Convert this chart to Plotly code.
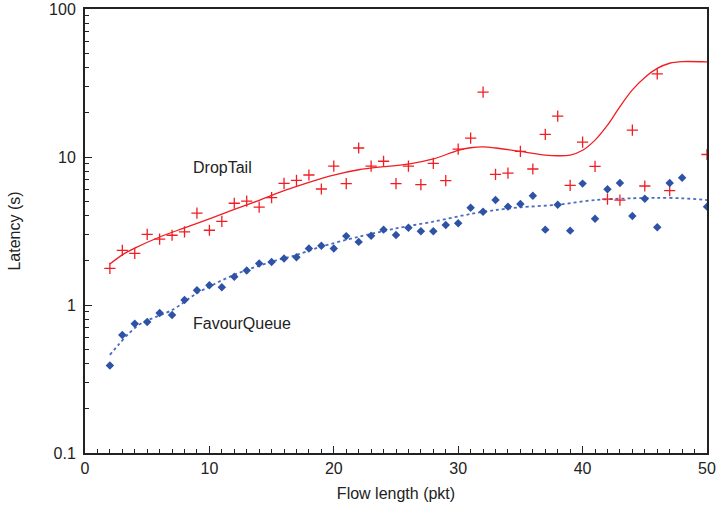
import plotly.graph_objects as go

# DropTail scatter points
dt_x = [2,3,4,5,6,7,8,9,10,11,12,13,14,15,16,17,18,19,20,21,22,23,24,25,26,27,28,29,30,
        31,32,33,34,35,36,37,38,39,40,41,42,43,44,45,46,47,50]
dt_y = [1.77,2.34,2.23,3.0,2.79,2.96,3.12,4.17,3.2,3.67,4.87,5.04,4.59,5.31,6.64,6.95,7.56,6.08,8.69,6.61,
        11.5,8.69,9.36,6.61,8.69,6.5,9.06,6.92,11.3,13.4,27.4,7.64,7.77,10.9,8.3,14.2,18.9,6.44,12.6,8.65,
        5.2,5.12,15.2,6.37,36.4,5.92,10.4]

# FavourQueue scatter points
fq_x = [2,3,4,5,6,7,8,9,10,11,12,13,14,15,16,17,18,19,20,21,22,23,24,25,26,27,28,29,30,
        31,32,33,34,35,36,37,38,39,40,41,42,43,44,45,46,47,48,50]
fq_y = [0.39,0.627,0.748,0.767,0.883,0.856,1.08,1.26,1.36,1.32,1.55,1.71,1.91,1.95,2.06,2.10,2.41,2.51,2.41,2.92,
        2.67,2.94,3.23,2.97,3.33,3.15,3.15,3.47,3.57,4.54,4.27,5.12,4.62,4.81,5.48,3.23,4.76,3.18,6.61,3.83,
        6.06,6.67,3.99,5.22,3.35,6.67,7.24,4.62]

# DropTail trend curve
dt_fit_x = [2,3,4,6,8,10,12,14,16,18,20,22,24,26,28,30,31,32,33,35,37,38,39,40,41,42,43,44,45,46,47,48,50]
dt_fit_y = [1.89,2.18,2.42,2.88,3.32,3.82,4.42,5.1,5.92,6.75,7.55,8.2,8.6,8.95,9.7,11.1,11.55,11.7,11.5,10.9,10.3,
            10.2,10.3,11.1,13.0,16.4,21.9,28.4,34.5,39.7,43.0,44.1,43.9]

# FavourQueue trend curve
fq_fit_x = [2,2.7,3.5,4.5,7,9,12,15,17,19,22,25,28,31,33,35,38,41,44,46,48,50]
fq_fit_y = [0.46,0.54,0.64,0.75,0.925,1.2,1.6,1.96,2.18,2.48,2.89,3.29,3.66,4.12,4.38,4.57,4.76,5.12,5.26,5.3,5.26,5.12]

RED = "#f01e23"
BLUE = "#2e52a6"
FONT = "Liberation Sans, Arial, sans-serif"

fig = go.Figure()
fig.add_trace(go.Scatter(x=dt_fit_x, y=dt_fit_y, mode="lines",
                         line=dict(color=RED, width=1.3, shape="spline", smoothing=0.9), hoverinfo="skip"))
fig.add_trace(go.Scatter(x=fq_fit_x, y=fq_fit_y, mode="lines",
                         line=dict(color="#4a6cc0", width=1.8, dash="dot", shape="spline", smoothing=0.9),
                         hoverinfo="skip"))
fig.add_trace(go.Scatter(x=dt_x, y=dt_y, mode="markers", name="DropTail",
                         marker=dict(symbol="cross-thin", size=8, line=dict(color=RED, width=1.3))))
fig.add_trace(go.Scatter(x=fq_x, y=fq_y, mode="markers", name="FavourQueue",
                         marker=dict(symbol="diamond", size=6.5, color=BLUE)))

fig.add_annotation(x=8.5, y=0.926, yref="y", text="DropTail", showarrow=False, xanchor="left", yanchor="middle",
                   font=dict(size=16, color="#222", family=FONT))
fig.add_annotation(x=8.55, y=-0.128, yref="y", text="FavourQueue", showarrow=False, xanchor="left", yanchor="middle",
                   font=dict(size=16, color="#222", family=FONT))

fig.update_layout(
    width=719, height=509, showlegend=False,
    paper_bgcolor="white", plot_bgcolor="white",
    margin=dict(l=85, r=12, t=9, b=56),
    font=dict(family=FONT, size=16, color="#222"),
)
fig.update_xaxes(range=[0, 50], tickvals=[0, 10, 20, 30, 40, 50], ticks="inside", ticklen=7, tickwidth=1.3,
                 tickcolor="#222", showline=True, linecolor="#222", linewidth=2, mirror=True, showgrid=False,
                 zeroline=False, automargin=False,
                 title=dict(text="Flow length (pkt)", font=dict(size=16), standoff=12),
                 minor=dict(dtick=1, ticks="inside", ticklen=4, tickcolor="#222", tickwidth=1),
                 tickfont=dict(size=16))
fig.update_yaxes(type="log", range=[-1, 2], tickvals=[0.1, 1, 10, 100], ticktext=["0.1", "1", "10", "100"],
                 ticks="inside", ticklen=7, tickwidth=1.3, tickcolor="#222", showline=True, linecolor="#222",
                 linewidth=2, mirror=True, showgrid=False, zeroline=False, automargin=False,
                 ticklabelstandoff=4,
                 title=dict(text="Latency (s)", font=dict(size=16), standoff=24),
                 minor=dict(dtick="D1", ticks="inside", ticklen=4, tickcolor="#222", tickwidth=1),
                 tickfont=dict(size=16))

fig.write_html("out.html", config={"displayModeBar": False},
               post_script="document.body.style.margin='0';")
